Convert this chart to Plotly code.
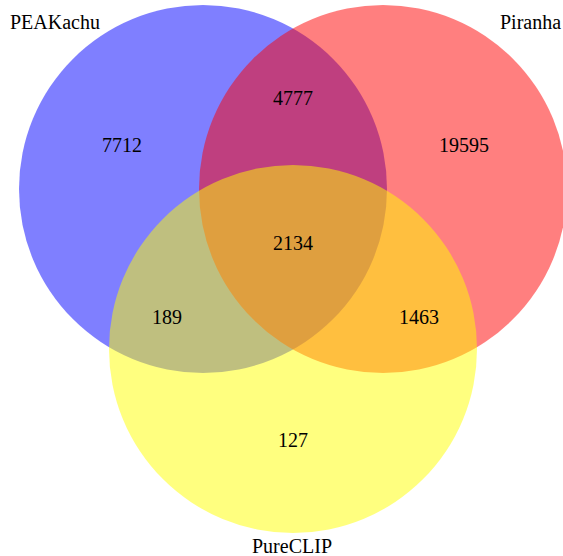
import plotly.graph_objects as go

# Data
set_names = ["PEAKachu", "Piranha", "PureCLIP"]
set_colors = ["rgb(0,0,255)", "rgb(255,0,0)", "rgb(255,255,0)"]
region_labels = ["PEAKachu only", "PEAKachu&Piranha", "Piranha only", "All three",
                 "PEAKachu&PureCLIP", "Piranha&PureCLIP", "PureCLIP only"]
region_counts = [7712, 4777, 19595, 2134, 189, 1463, 127]

# Layout geometry (pixel-like coordinates)
W, H = 563, 556
R = 184
centers = [(203, 189), (383, 189), (293, 349)]
count_pos = [(122, 145), (293, 98), (464, 145), (293, 243), (167, 317), (419, 317), (293, 440)]
name_pos = [(55, 22), (530, 22), (292, 546)]

FONT = "Times New Roman, Liberation Serif, serif"

fig = go.Figure()
shapes = []
for (cx, cy), col in zip(centers, set_colors):
    shapes.append(dict(type="circle", xref="x", yref="y",
                       x0=cx - R, x1=cx + R, y0=cy - R, y1=cy + R,
                       fillcolor=col, opacity=0.5, line=dict(width=0),
                       layer="below"))

annotations = []
for (x, y), v in zip(count_pos, region_counts):
    annotations.append(dict(x=x, y=y, xref="x", yref="y", text=str(v), showarrow=False,
                            font=dict(family=FONT, size=20, color="black"),
                            xanchor="center", yanchor="middle"))
for (x, y), n in zip(name_pos, set_names):
    annotations.append(dict(x=x, y=y, xref="x", yref="y", text=n, showarrow=False,
                            font=dict(family=FONT, size=20, color="black"),
                            xanchor="center", yanchor="middle"))

fig.update_layout(
    width=W, height=H,
    margin=dict(l=0, r=0, t=0, b=0),
    paper_bgcolor="white", plot_bgcolor="white",
    font=dict(family=FONT),
    shapes=shapes, annotations=annotations,
    xaxis=dict(range=[0, W], visible=False, fixedrange=True),
    yaxis=dict(range=[H, 0], visible=False, fixedrange=True),
    showlegend=False,
)
fig.write_html("out.html", config={"displayModeBar": False},
               post_script="document.body.style.margin='0';document.body.style.overflow='hidden';")
